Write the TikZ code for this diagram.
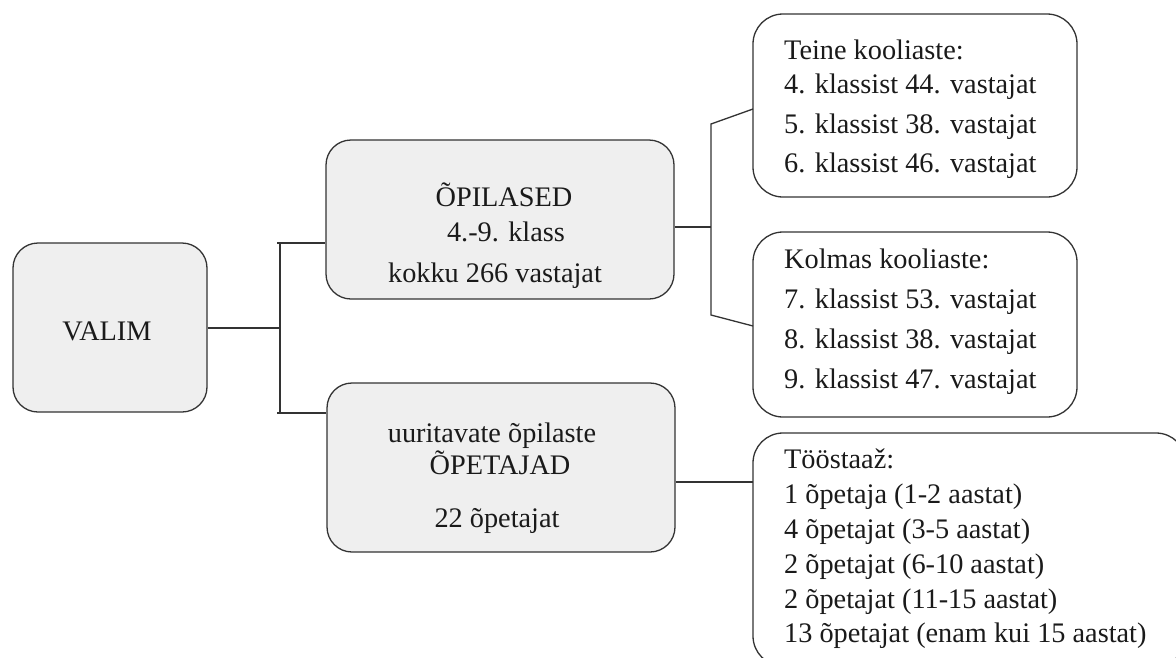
\documentclass[tikz,border=0pt]{standalone}
\usepackage{fontspec}
\setmainfont{Liberation Serif}
\definecolor{lc}{HTML}{333333}
\definecolor{gfill}{HTML}{EFEFEF}
\definecolor{tc}{HTML}{1A1A1A}
\begin{document}
\begin{tikzpicture}[x=1pt,y=-1pt,
  graybox/.style={draw=lc,line width=1.3pt,fill=gfill,rounded corners=25pt,inner sep=0pt},
  whitebox/.style={draw=lc,line width=1.3pt,fill=white,rounded corners=30pt,inner sep=0pt},
  conn/.style={draw=lc,line width=1.3pt},
  txt/.style={inner sep=0pt,text=tc,font=\fontsize{28.3}{34}\selectfont},
  ctxt/.style={txt,anchor=base},
  ltxt/.style={txt,anchor=base west}]
\useasboundingbox (0,0) rectangle (1176,657);
\clip (0,0) rectangle (1176,657);
% boxes
\node[graybox,minimum width=194pt,minimum height=169pt] (valim) at (110,327.5) {};
\node[graybox,minimum width=348pt,minimum height=159pt] (opil) at (500,219.5) {};
\node[graybox,minimum width=348pt,minimum height=169pt] (opet) at (501,467.5) {};
\node[whitebox,minimum width=324pt,minimum height=183pt] (teine) at (915,105.5) {};
\node[whitebox,minimum width=324pt,minimum height=185pt] (kolmas) at (915,324.5) {};
\node[whitebox,minimum width=433pt,minimum height=233pt] (toos) at (969.5,549.5) {};
% texts
\node[ctxt] (tvalim) at (107,340) {VALIM};
\node[ctxt] (to1) at (504,206) {ÕPILASED};
\node[ctxt] (to2) at (506,241) {4.-9. klass};
\node[ctxt] (to3) at (495,282) {kokku 266 vastajat};
\node[ctxt] (tp1) at (492,442) {uuritavate õpilaste};
\node[ctxt] (tp2) at (500,474) {ÕPETAJAD};
\node[ctxt] (tp3) at (497,527) {22 õpetajat};
\node[ltxt] (tt1) at (784,59) {Teine kooliaste:};
\node[ltxt] (tt2) at (784,93) {4. klassist 44. vastajat};
\node[ltxt] (tt3) at (784,133) {5. klassist 38. vastajat};
\node[ltxt] (tt4) at (784,172) {6. klassist 46. vastajat};
\node[ltxt] (tk1) at (784,268) {Kolmas kooliaste:};
\node[ltxt] (tk2) at (784,308) {7. klassist 53. vastajat};
\node[ltxt] (tk3) at (784,348) {8. klassist 38. vastajat};
\node[ltxt] (tk4) at (784,388) {9. klassist 47. vastajat};
\node[ltxt] (ts1) at (784,468) {Tööstaaž:};
\node[ltxt] (ts2) at (784,503) {1 õpetaja (1-2 aastat)};
\node[ltxt] (ts3) at (784,538) {4 õpetajat (3-5 aastat)};
\node[ltxt] (ts4) at (784,573) {2 õpetajat (6-10 aastat)};
\node[ltxt] (ts5) at (784,608) {2 õpetajat (11-15 aastat)};
\node[ltxt] (ts6) at (784,642) {13 õpetajat (enam kui 15 aastat)};
% connector coordinates
\coordinate (jm) at (280,328);
\coordinate (jt) at (280,243);
\coordinate (jb) at (280,413);
\coordinate (jt0) at (277,243);
\coordinate (jb0) at (277,413);
\coordinate (rm) at (711,227);
\coordinate (rt) at (711,124);
\coordinate (rb) at (711,315);
\coordinate (et) at (753,109);
\coordinate (eb) at (753,326);
\coordinate (sm) at (753,482);
% connectors
\draw[conn] (valim.east |- jm) -- (jm);
\draw[conn] (jt) -- (jb);
\draw[conn] (jt0) -- (jt0 -| opil.west);
\draw[conn] (jb0) -- (jb0 -| opet.west);
\draw[conn] (opil.east |- rm) -- (rm);
\draw[conn] (et) -- (rt) -- (rb) -- (eb);
\draw[conn] (opet.east |- sm) -- (sm);
\end{tikzpicture}
\end{document}
